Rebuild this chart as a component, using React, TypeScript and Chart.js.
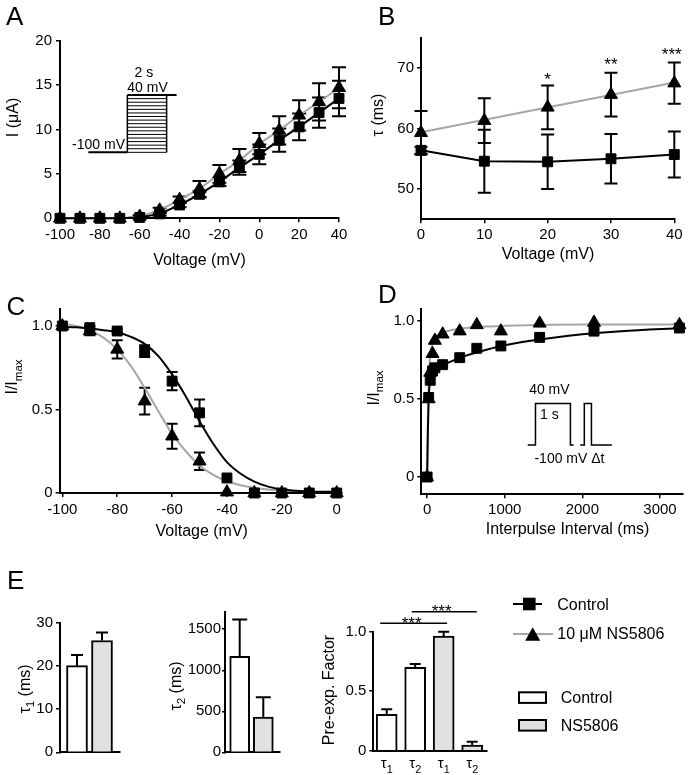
import React, { useEffect, useRef } from 'react';
import { Chart, registerables } from 'chart.js';

Chart.register(...registerables);

const W = 691;
const H = 775;
const FONT = "'Liberation Sans', Arial, Helvetica, sans-serif";
const BLACK = '#000000';
const GRAY_LINE = '#a6a6a6';
const GRAY_FILL = '#e1e1e1';
const WHITE = '#ffffff';

/* ---------------- Panel A : current–voltage ---------------- */
const aVoltage = [-100, -90, -80, -70, -60, -50, -40, -30, -20, -10, 0, 10, 20, 30, 40];
const aControl = [0, 0, 0, 0, 0.1, 0.5, 1.5, 2.7, 4.1, 5.7, 7.2, 8.8, 10.3, 11.9, 13.5];
const aControlErr = [0, 0, 0, 0, 0.1, 0.2, 0.25, 0.35, 0.45, 0.8, 1.1, 1.3, 1.5, 1.7, 2.0];
const aNS5806 = [0, 0, 0, 0, 0.2, 0.9, 2.1, 3.3, 5.0, 6.5, 8.4, 9.9, 11.6, 13.1, 14.7];
const aNS5806Err = [0, 0, 0, 0, 0.15, 0.3, 0.35, 0.9, 1.0, 1.3, 1.2, 1.6, 1.7, 2.1, 2.3];
const aXTicks = [-100, -80, -60, -40, -20, 0, 20, 40];
const aYTicks = [0, 5, 10, 15, 20];
// inset step protocol, in axis units
const aStepHoldX = [-85.8, -66.2];
const aStepPulseX = [-66.2, -46.5];
const aStepTopEndX = -41.5;
const aStepLevels = [7.43, 13.88];
const aStepCount = 16;

/* ---------------- Panel B : time constants ---------------- */
const bVoltage = [0, 10, 20, 30, 40];
const bControl = [56.4, 54.6, 54.5, 55.0, 55.7];
const bControlErr = [0.6, 5.2, 4.5, 4.1, 3.8];
const bNS5806 = [59.3, 61.3, 63.5, 65.6, 67.5];
const bNS5806Err = [3.6, 3.7, 3.6, 3.6, 3.4];
const bFitX = [0, 40];
const bFitNS5806 = [59.4, 67.6];
const bStars = ['*', '**', '***'];
const bStarX = [20, 30, 39.6];
const bStarY = [68.9, 71.3, 73.0];
const bXTicks = [0, 10, 20, 30, 40];
const bYTicks = [50, 60, 70];

/* ---------------- Panel C : steady-state inactivation ---------------- */
const cVoltage = [-100, -90, -80, -70, -60, -50, -40, -30, -20, -10, 0];
const cControl = [1.0, 0.99, 0.97, 0.85, 0.67, 0.48, 0.09, 0, 0, 0, 0];
const cControlErr = [0, 0.01, 0.01, 0.035, 0.055, 0.08, 0, 0, 0, 0, 0];
const cNS5806 = [1.0, 0.97, 0.86, 0.55, 0.34, 0.19, 0.005, 0, 0, 0, 0];
const cNS5806Err = [0, 0.025, 0.055, 0.08, 0.075, 0.053, 0, 0, 0, 0, 0];
const cFitV = [-100, -95, -90, -85, -80, -75, -70, -65, -60, -55, -50, -45, -40, -35, -30, -25, -20, -15, -10, -5, 0];
const cFitControl = [0.995, 0.992, 0.985, 0.975, 0.962, 0.935, 0.893, 0.82, 0.71, 0.578, 0.43, 0.295, 0.185, 0.115, 0.068, 0.038, 0.021, 0.013, 0.008, 0.006, 0.005];
const cFitNS5806 = [1.015, 1.0, 0.975, 0.93, 0.86, 0.76, 0.63, 0.49, 0.355, 0.25, 0.165, 0.108, 0.07, 0.046, 0.031, 0.021, 0.016, 0.013, 0.011, 0.01, 0.01];
const cXTicks = [-100, -80, -60, -40, -20, 0];
const cYTicks = [0, 0.5, 1.0];

/* ---------------- Panel D : recovery from inactivation ---------------- */
const dInterval = [0, 20, 40, 70, 100, 200, 420, 640, 950, 1450, 2150, 3250];
const dControl = [0, 0.51, 0.62, 0.68, 0.7, 0.72, 0.765, 0.825, 0.84, 0.895, 0.935, 0.955];
const dNS5806 = [0, 0.5, 0.67, 0.79, 0.875, 0.915, 0.935, 0.975, 0.935, 0.985, 0.99, 0.975];
const dFitControlX = [0, 5, 10, 20, 40, 70, 100, 200, 400, 650, 1000, 1500, 2000, 2500, 3290];
const dFitControl = [0, 0.15, 0.3, 0.5, 0.62, 0.67, 0.69, 0.715, 0.76, 0.8, 0.845, 0.885, 0.915, 0.935, 0.955];
const dFitNS5806X = [0, 5, 10, 20, 30, 50, 80, 120, 200, 300, 500, 800, 1300, 2000, 3290];
const dFitNS5806 = [0.01, 0.2, 0.38, 0.6, 0.72, 0.82, 0.87, 0.9, 0.925, 0.94, 0.955, 0.965, 0.973, 0.977, 0.978];
const dXTicks = [0, 1000, 2000, 3000];
const dYTicks = [0, 0.5, 1.0];
// inset two-pulse protocol, in axis units
const dPulse1X = [1296, 1396, 1396, 1846, 1846, 1888];
const dPulse2X = [1971, 2025, 2025, 2117, 2117, 2380];
const dPulseY = [0.205, 0.205, 0.472, 0.472, 0.205, 0.205];

/* ---------------- Panel E : bar charts ---------------- */
const eGroups = ['Control', 'NS5806'];
const eGroupColors = [WHITE, GRAY_FILL];
const e1Tau1 = [20.1, 25.95];
const e1Tau1Err = [2.5, 1.85];
const e1YTicks = [0, 10, 20, 30];
const e2Tau2 = [1170, 430];
const e2Tau2Err = [450, 240];
const e2YTicks = [0, 500, 1000, 1500];
const e3Labels = ['τ1', 'τ2', 'τ1', 'τ2'];
const e3Group = [0, 0, 1, 1];
const e3Factor = [0.306, 0.7, 0.964, 0.048];
const e3FactorErr = [0.042, 0.029, 0.036, 0.028];
const e3YTicks = [0, 0.5, 1.0];
const e3SigFrom = [-0.23, 0.88];
const e3SigTo = [2.12, 3.16];
const e3SigLevel = [1.07, 1.168];
const e3SigStarX = [0.877, 1.93];
const e3SigStarY = [1.107, 1.21];

/* ---------------- helpers ---------------- */
type Seg = { t: string; sub?: boolean };
type Area = { l: number; t: number; r: number; b: number };

function drawText(ctx: any, segs: Seg[] | string, x: number, y: number, size: number, align: string = 'center', rotate = false) {
  const parts: Seg[] = typeof segs === 'string' ? [{ t: segs }] : segs;
  const subSize = size * 0.72;
  ctx.save();
  ctx.fillStyle = BLACK;
  ctx.textBaseline = 'alphabetic';
  ctx.textAlign = 'left';
  const widths = parts.map((p) => {
    ctx.font = `${p.sub ? subSize : size}px ${FONT}`;
    return ctx.measureText(p.t).width;
  });
  const total = widths.reduce((a, b) => a + b, 0);
  ctx.translate(x, y);
  if (rotate) ctx.rotate(-Math.PI / 2);
  let cx = align === 'center' ? -total / 2 : align === 'right' ? -total : 0;
  const base = size * 0.36;
  parts.forEach((p, i) => {
    ctx.font = `${p.sub ? subSize : size}px ${FONT}`;
    ctx.fillText(p.t, cx, base + (p.sub ? size * 0.28 : 0));
    cx += widths[i];
  });
  ctx.restore();
}

function drawStars(ctx: any, s: string, x: number, cy: number, size: number) {
  ctx.save();
  ctx.fillStyle = BLACK;
  ctx.font = `${size}px ${FONT}`;
  ctx.textAlign = 'center';
  ctx.textBaseline = 'alphabetic';
  ctx.fillText(s, x, cy + size * 0.58);
  ctx.restore();
}

function letter(ctx: any, s: string, x: number, baseline: number) {
  ctx.save();
  ctx.fillStyle = BLACK;
  ctx.font = `26px ${FONT}`;
  ctx.textAlign = 'left';
  ctx.textBaseline = 'alphabetic';
  ctx.fillText(s, x, baseline);
  ctx.restore();
}

function drawErrorBars(chart: any, dsIndex: number, errs: number[], cap: number, both: boolean, lw = 2) {
  const ctx = chart.ctx;
  const ys = chart.scales.y;
  const meta = chart.getDatasetMeta(dsIndex);
  const data = chart.data.datasets[dsIndex].data;
  ctx.save();
  ctx.strokeStyle = BLACK;
  ctx.lineWidth = lw;
  meta.data.forEach((el: any, i: number) => {
    const e = errs[i];
    if (!e) return;
    const v = data[i].y;
    const x = el.x;
    const y0 = ys.getPixelForValue(both ? v - e : v);
    const y1 = ys.getPixelForValue(v + e);
    ctx.beginPath();
    ctx.moveTo(x, y0);
    ctx.lineTo(x, y1);
    ctx.moveTo(x - cap / 2, y1);
    ctx.lineTo(x + cap / 2, y1);
    if (both) {
      ctx.moveTo(x - cap / 2, y0);
      ctx.lineTo(x + cap / 2, y0);
    }
    ctx.stroke();
  });
  ctx.restore();
}

function polyline(chart: any, xs: number[], ys: number[], lw: number) {
  const ctx = chart.ctx;
  const sx = chart.scales.x;
  const sy = chart.scales.y;
  ctx.save();
  ctx.strokeStyle = BLACK;
  ctx.lineWidth = lw;
  ctx.beginPath();
  xs.forEach((x, i) => {
    const px = sx.getPixelForValue(x);
    const py = sy.getPixelForValue(ys[i]);
    if (i === 0) ctx.moveTo(px, py);
    else ctx.lineTo(px, py);
  });
  ctx.stroke();
  ctx.restore();
}

function linAxis(o: any) {
  const ticks: number[] = o.ticks || [];
  const ax: any = {
    type: 'linear',
    min: o.min,
    max: o.max,
    bounds: 'data',
    offset: false,
    ticks: {
      display: o.showLabels !== false && ticks.length > 0,
      autoSkip: false,
      maxRotation: 0,
      minRotation: 0,
      padding: o.padding ?? 3,
      color: BLACK,
      font: { family: FONT, size: 15 },
      callback: (v: any) => (o.fmt ? o.fmt(Number(v)) : String(v)),
    },
    grid: {
      display: ticks.length > 0,
      drawOnChartArea: false,
      drawTicks: true,
      tickLength: o.tickLength ?? 4,
      color: BLACK,
      lineWidth: 1.5,
      tickWidth: 1.5,
    },
    border: { display: true, color: BLACK, width: 2 },
  };
  if (ticks.length) ax.afterBuildTicks = (s: any) => { s.ticks = ticks.map((v) => ({ value: v })); };
  return ax;
}

function baseOptions(area: Area, xAxis: any, yAxis: any) {
  return {
    responsive: false,
    maintainAspectRatio: false,
    animation: false,
    events: [],
    layout: { padding: { left: 0, top: area.t, right: W - area.r, bottom: 0 } },
    plugins: { legend: { display: false }, tooltip: { enabled: false }, title: { display: false } },
    scales: {
      x: { ...xAxis, afterFit: (s: any) => { s.height = H - area.b; } },
      y: { ...yAxis, afterFit: (s: any) => { s.width = area.l; } },
    },
  };
}

function series(xs: number[], ys: number[], marker: string, lineColor: string, showLine = true, smooth = false, lw = 2) {
  return {
    data: xs.map((x, i) => ({ x, y: ys[i] })),
    borderColor: lineColor,
    borderWidth: lw,
    showLine,
    pointStyle: marker === 'none' ? 'circle' : marker,
    pointRadius: marker === 'none' ? 0 : marker === 'triangle' ? 7.5 : 7,
    pointHoverRadius: 0,
    pointBackgroundColor: BLACK,
    pointBorderColor: BLACK,
    pointBorderWidth: 1,
    fill: false,
    clip: false,
    tension: 0,
    cubicInterpolationMode: smooth ? 'monotone' : 'default',
  };
}

const fmtDec = (v: number) => (v === 0 ? '0' : v.toFixed(1));
const tauSeg = (s: string): Seg[] => [{ t: s.charAt(0) }, { t: s.slice(1), sub: true }];

/* ---------------- chart configs ---------------- */
function configA() {
  const area = { l: 60, t: 40.7, r: 339, b: 218.3 };
  return {
    type: 'line',
    data: {
      datasets: [
        series(aVoltage, aControl, 'rect', BLACK),
        series(aVoltage, aNS5806, 'triangle', GRAY_LINE),
      ],
    },
    options: baseOptions(
      area,
      linAxis({ min: -100, max: 40, ticks: aXTicks, padding: 4 }),
      linAxis({ min: 0, max: 20, ticks: aYTicks, padding: 4 })
    ),
    plugins: [{
      id: 'decoA',
      beforeDatasetsDraw(c: any) {
        drawErrorBars(c, 1, aNS5806Err, 14, true);
        drawErrorBars(c, 0, aControlErr, 14, true);
      },
      afterDraw(c: any) {
        const ctx = c.ctx;
        const sx = c.scales.x;
        const sy = c.scales.y;
        // protocol inset
        polyline(c, aStepHoldX, [aStepLevels[0], aStepLevels[0]], 2);
        polyline(c, [aStepPulseX[0], aStepPulseX[0]], aStepLevels, 1.5);
        polyline(c, [aStepPulseX[1], aStepPulseX[1]], aStepLevels, 1.5);
        polyline(c, [aStepPulseX[0], aStepTopEndX], [aStepLevels[1], aStepLevels[1]], 2);
        for (let k = 0; k < aStepCount; k++) {
          const lv = aStepLevels[0] + ((aStepLevels[1] - aStepLevels[0]) * k) / aStepCount;
          polyline(c, aStepPulseX, [lv, lv], 1);
        }
        drawText(ctx, '-100 mV', sx.getPixelForValue(-67.4), sy.getPixelForValue(8.4), 14, 'right');
        drawText(ctx, '40 mV', sx.getPixelForValue(-56.1), sy.getPixelForValue(14.75), 14);
        drawText(ctx, '2 s', sx.getPixelForValue(-57.9), sy.getPixelForValue(16.5), 14);
        // titles
        drawText(ctx, 'I (μA)', 12, 117.5, 16, 'center', true);
        drawText(ctx, 'Voltage (mV)', 199.5, 259, 16);
        letter(ctx, 'A', 6, 25);
      },
    }],
  };
}

function configB() {
  const area = { l: 421, t: 37.75, r: 674.3, b: 219.3 };
  return {
    type: 'line',
    data: {
      datasets: [
        series(bVoltage, bControl, 'rect', BLACK),
        series(bVoltage, bNS5806, 'triangle', GRAY_LINE, false),
        series(bFitX, bFitNS5806, 'none', GRAY_LINE),
      ],
    },
    options: baseOptions(
      area,
      linAxis({ min: 0, max: 40, ticks: bXTicks, padding: 3 }),
      linAxis({ min: 45, max: 75, ticks: bYTicks, padding: 3 })
    ),
    plugins: [{
      id: 'decoB',
      beforeDatasetsDraw(c: any) {
        drawErrorBars(c, 1, bNS5806Err, 13, true);
        drawErrorBars(c, 0, bControlErr, 13, true);
      },
      afterDraw(c: any) {
        const ctx = c.ctx;
        bStars.forEach((s, i) => {
          drawStars(ctx, s, c.scales.x.getPixelForValue(bStarX[i]), c.scales.y.getPixelForValue(bStarY[i]), 17);
        });
        drawText(ctx, 'τ (ms)', 377, 115, 16, 'center', true);
        drawText(ctx, 'Voltage (mV)', 548, 253, 16);
        letter(ctx, 'B', 378, 25);
      },
    }],
  };
}

function configC() {
  const area = { l: 59.6, t: 309.3, r: 342.2, b: 493 };
  return {
    type: 'line',
    data: {
      datasets: [
        series(cVoltage, cControl, 'rect', BLACK, false),
        series(cVoltage, cNS5806, 'triangle', GRAY_LINE, false),
        series(cFitV, cFitControl, 'none', BLACK, true, true),
        series(cFitV, cFitNS5806, 'none', GRAY_LINE, true, true),
      ],
    },
    options: baseOptions(
      area,
      linAxis({ min: -101, max: 2, ticks: cXTicks, padding: 4 }),
      linAxis({ min: 0, max: 1.1, ticks: cYTicks, padding: 3, fmt: fmtDec })
    ),
    plugins: [{
      id: 'decoC',
      beforeDatasetsDraw(c: any) {
        drawErrorBars(c, 1, cNS5806Err, 11, true);
        drawErrorBars(c, 0, cControlErr, 11, true);
      },
      afterDraw(c: any) {
        const ctx = c.ctx;
        drawText(ctx, [{ t: 'I/I' }, { t: 'max', sub: true }], 11.5, 377, 16, 'center', true);
        drawText(ctx, 'Voltage (mV)', 201.7, 530, 16);
        letter(ctx, 'C', 6.5, 315);
      },
    }],
  };
}

function configD() {
  const area = { l: 421.3, t: 308.5, r: 690.5, b: 494.2 };
  return {
    type: 'line',
    data: {
      datasets: [
        series(dInterval, dControl, 'rect', BLACK, false),
        series(dInterval, dNS5806, 'triangle', GRAY_LINE, false),
        series(dFitControlX, dFitControl, 'none', BLACK, true, true),
        series(dFitNS5806X, dFitNS5806, 'none', GRAY_LINE, true, true),
      ],
    },
    options: baseOptions(
      area,
      linAxis({ min: -75, max: 3290, ticks: dXTicks, padding: 3 }),
      linAxis({ min: -0.11, max: 1.08, ticks: dYTicks, padding: 3, fmt: fmtDec })
    ),
    plugins: [{
      id: 'decoD',
      afterDraw(c: any) {
        const ctx = c.ctx;
        const sx = c.scales.x;
        const sy = c.scales.y;
        polyline(c, dPulse1X, dPulseY, 1.5);
        polyline(c, dPulse2X, dPulseY, 1.5);
        drawText(ctx, '40 mV', sx.getPixelForValue(1575), sy.getPixelForValue(0.564), 14);
        drawText(ctx, '1 s', sx.getPixelForValue(1575), sy.getPixelForValue(0.404), 14);
        drawText(ctx, '-100 mV Δt', sx.getPixelForValue(1834), sy.getPixelForValue(0.12), 14);
        drawText(ctx, [{ t: 'I/I' }, { t: 'max', sub: true }], 373, 388, 16, 'center', true);
        drawText(ctx, 'Interpulse Interval (ms)', 567.5, 528, 16);
        letter(ctx, 'D', 378, 303);
      },
    }],
  };
}

function barData(values: number[], groups: number[], thickness: number) {
  return {
    datasets: [{
      data: values.map((y, i) => ({ x: i, y })),
      backgroundColor: groups.map((g) => eGroupColors[g]),
      borderColor: BLACK,
      borderWidth: 2,
      barThickness: thickness,
      clip: false,
    }],
  };
}

function configE1() {
  const area = { l: 60, t: 623, r: 120, b: 752.3 };
  return {
    type: 'bar',
    data: barData(e1Tau1, [0, 1], 21),
    options: baseOptions(
      area,
      linAxis({ min: -0.68, max: 1.72, showLabels: false }),
      linAxis({ min: 0, max: 30, ticks: e1YTicks, padding: 3 })
    ),
    plugins: [{
      id: 'decoE1',
      afterDatasetsDraw(c: any) { drawErrorBars(c, 0, e1Tau1Err, 12, false); },
      afterDraw(c: any) {
        const ctx = c.ctx;
        drawText(ctx, [{ t: 'τ' }, { t: '1', sub: true }, { t: ' (ms)' }], 24, 689, 16, 'center', true);
        letter(ctx, 'E', 7, 589);
      },
    }],
  };
}

function configE2() {
  const area = { l: 225, t: 612, r: 280, b: 752.3 };
  return {
    type: 'bar',
    data: barData(e2Tau2, [0, 1], 20),
    options: baseOptions(
      area,
      linAxis({ min: -0.623, max: 1.708, showLabels: false }),
      linAxis({ min: 0, max: 1710, ticks: e2YTicks, padding: 1, tickLength: 3 })
    ),
    plugins: [{
      id: 'decoE2',
      afterDatasetsDraw(c: any) { drawErrorBars(c, 0, e2Tau2Err, 15, false); },
      afterDraw(c: any) {
        drawText(c.ctx, [{ t: 'τ' }, { t: '2', sub: true }, { t: ' (ms)' }], 175, 686, 16, 'center', true);
      },
    }],
  };
}

function configE3() {
  const area = { l: 373.3, t: 631.7, r: 486.7, b: 750.7 };
  return {
    type: 'bar',
    data: barData(e3Factor, e3Group, 21),
    options: baseOptions(
      area,
      linAxis({ min: -0.47, max: 3.51, showLabels: false }),
      linAxis({ min: 0, max: 1.0, ticks: e3YTicks, padding: 3, fmt: fmtDec })
    ),
    plugins: [{
      id: 'decoE3',
      afterDatasetsDraw(c: any) { drawErrorBars(c, 0, e3FactorErr, 11, false); },
      afterDraw(c: any) {
        const ctx = c.ctx;
        const sx = c.scales.x;
        const sy = c.scales.y;
        e3Labels.forEach((s, i) => drawText(ctx, tauSeg(s), sx.getPixelForValue(i), 763, 15));
        e3SigFrom.forEach((x0, i) => {
          polyline(c, [x0, e3SigTo[i]], [e3SigLevel[i], e3SigLevel[i]], 1.5);
          drawStars(ctx, '***', sx.getPixelForValue(e3SigStarX[i]), sy.getPixelForValue(e3SigStarY[i]), 17);
        });
        drawText(ctx, 'Pre-exp. Factor', 328, 690, 16, 'center', true);

        // legend
        ctx.save();
        ctx.lineWidth = 2;
        ctx.strokeStyle = BLACK;
        ctx.beginPath(); ctx.moveTo(513, 604); ctx.lineTo(542, 604); ctx.stroke();
        ctx.fillStyle = BLACK;
        ctx.fillRect(523, 597.7, 12.6, 12.6);
        ctx.strokeStyle = GRAY_LINE;
        ctx.beginPath(); ctx.moveTo(513, 634); ctx.lineTo(553, 634); ctx.stroke();
        ctx.fillStyle = BLACK;
        ctx.beginPath(); ctx.moveTo(532.7, 627.3); ctx.lineTo(540.2, 640.7); ctx.lineTo(525.2, 640.7); ctx.closePath(); ctx.fill();
        ctx.strokeStyle = BLACK;
        eGroups.forEach((g, i) => {
          const y0 = i === 0 ? 692.3 : 720;
          ctx.fillStyle = eGroupColors[i];
          ctx.fillRect(519, y0, 27, 10.6);
          ctx.strokeRect(519, y0, 27, 10.6);
        });
        ctx.restore();
        drawText(ctx, 'Control', 557.3, 604.3, 16, 'left');
        drawText(ctx, '10 μM NS5806', 557.3, 633.3, 16, 'left');
        drawText(ctx, eGroups[0], 560.7, 697.3, 16, 'left');
        drawText(ctx, eGroups[1], 560.7, 725.3, 16, 'left');
      },
    }],
  };
}

const CONFIGS = [configA, configB, configC, configD, configE1, configE2, configE3];

function ChartCanvas({ make }: { make: () => any }) {
  const ref = useRef<HTMLCanvasElement | null>(null);
  useEffect(() => {
    if (!ref.current) return;
    Chart.defaults.font.family = FONT;
    Chart.defaults.color = BLACK;
    const chart = new Chart(ref.current, make());
    return () => chart.destroy();
  }, [make]);
  return (
    <canvas
      ref={ref}
      width={W}
      height={H}
      style={{ position: 'absolute', left: 0, top: 0, width: W, height: H }}
    />
  );
}

export default function App() {
  return (
    <div style={{ position: 'absolute', left: 0, top: 0, width: W, height: H, background: '#fff', overflow: 'hidden' }}>
      {CONFIGS.map((make, i) => (
        <ChartCanvas key={i} make={make} />
      ))}
    </div>
  );
}
